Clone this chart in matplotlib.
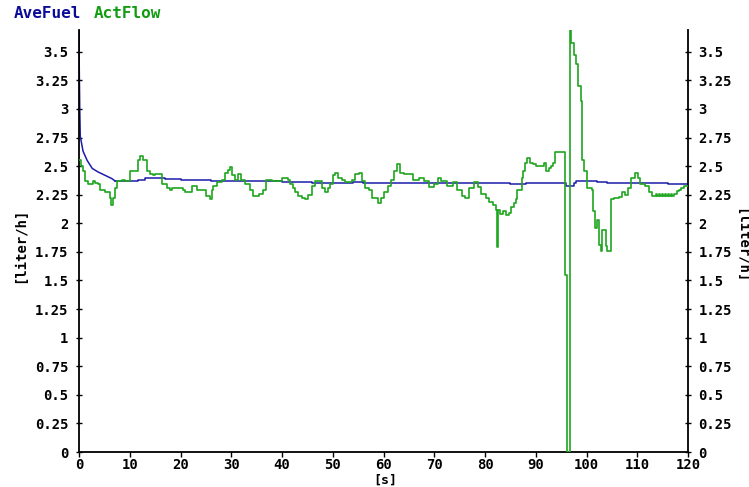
import matplotlib
matplotlib.use("Agg")
import matplotlib.pyplot as plt
import numpy as np

# ActFlow (green) step breakpoints: time [s], value [liter/h]
act_t = [0, 0.4, 0.8, 1.2, 1.8, 2.8, 3.2, 3.8, 4.1, 5.1, 6.1, 6.3, 6.7, 7.1, 7.5, 8.5, 9.0, 10.0,
         11.6, 12.0, 12.6, 13.4, 14.0, 14.6, 15.0, 16.3, 17.3, 18.0, 18.4, 20.5, 20.9, 22.2, 23.2, 25.0,
         25.8, 26.2, 26.4, 27.2, 28.1, 28.7, 29.3, 29.7, 30.1, 30.7, 31.3, 32.0, 32.7, 33.7,
         34.3, 35.4, 36.2, 36.8, 38.0, 40.0, 41.1, 41.5, 42.1, 42.5, 43.1, 43.9, 44.5, 45.1,
         45.9, 46.5, 47.8, 48.4, 49.0, 49.4, 50.0, 50.4, 51.0, 51.8, 52.4, 53.7, 54.3, 55.1,
         55.7, 56.3, 57.1, 57.7, 58.9, 59.5, 60.0, 60.8, 61.4, 62.1, 62.6, 63.2, 64.0, 65.9,
         67.0, 68.0, 68.9, 70.0, 70.8, 71.4, 72.6, 73.7, 74.4, 75.4, 76.0, 76.8, 77.8, 78.7,
         79.3, 80.1, 80.7, 81.5, 82.1, 82.4, 82.6, 83.0, 83.6, 84.2, 84.8, 85.2, 85.8, 86.2,
         86.4, 87.2, 87.4, 87.8, 88.2, 88.8, 89.4, 90.0, 91.4, 91.6, 92.0, 92.6, 93.0, 93.4,
         93.8, 95.8, 96.2, 96.8, 97.0, 97.6, 98.0, 98.4, 99.0, 99.2, 99.6, 100.0, 101.0,
         101.2, 101.6, 102.0, 102.4, 102.8, 103.0, 103.8, 104.0, 104.8, 105.4, 106.4, 107.0,
         107.6, 108.2, 108.8, 109.6, 110.2, 110.6, 111.6, 112.4, 113.0, 113.6, 113.8, 114.2,
         114.4, 114.8, 115.0, 115.4, 115.6, 116.0, 116.2, 116.6, 116.8, 117.2, 117.8, 118.2,
         118.6, 119.2, 120.0]
act_v = [2.55, 2.50, 2.46, 2.37, 2.34, 2.37, 2.35, 2.34, 2.29, 2.27, 2.22, 2.16, 2.22, 2.31, 2.37, 2.38, 2.37, 2.46,
         2.55, 2.59, 2.55, 2.46, 2.43, 2.42, 2.43, 2.34, 2.31, 2.29, 2.31, 2.29, 2.27, 2.33, 2.29, 2.24,
         2.21, 2.29, 2.33, 2.36, 2.38, 2.44, 2.47, 2.49, 2.42, 2.38, 2.43, 2.38, 2.34, 2.29,
         2.24, 2.26, 2.29, 2.38, 2.37, 2.40, 2.38, 2.34, 2.31, 2.27, 2.24, 2.22, 2.21, 2.25,
         2.33, 2.37, 2.31, 2.27, 2.31, 2.34, 2.42, 2.44, 2.40, 2.38, 2.36, 2.38, 2.43, 2.44,
         2.37, 2.31, 2.29, 2.22, 2.18, 2.22, 2.27, 2.33, 2.38, 2.46, 2.52, 2.44, 2.43, 2.38,
         2.40, 2.37, 2.32, 2.34, 2.40, 2.37, 2.33, 2.36, 2.29, 2.24, 2.22, 2.31, 2.36, 2.32,
         2.26, 2.22, 2.19, 2.16, 2.12, 1.79, 2.12, 2.08, 2.11, 2.07, 2.09, 2.14, 2.18, 2.21,
         2.29, 2.40, 2.46, 2.53, 2.57, 2.53, 2.52, 2.50, 2.50, 2.53, 2.46, 2.48, 2.50, 2.53,
         2.62, 1.55, 0.0, 3.75, 3.58, 3.47, 3.39, 3.20, 3.07, 2.55, 2.46, 2.31, 2.29,
         2.11, 1.96, 2.03, 1.81, 1.76, 1.94, 1.80, 1.76, 2.21, 2.22, 2.23, 2.27,
         2.25, 2.31, 2.40, 2.44, 2.40, 2.34, 2.33, 2.27, 2.24, 2.26, 2.24, 2.26,
         2.24, 2.26, 2.24, 2.26, 2.24, 2.26, 2.24, 2.26, 2.24, 2.26, 2.28, 2.29,
         2.31, 2.33, 2.33]

# AveFuel (blue) running average: smooth start-up decay, then stepped plateau
ave_decay_t = [0.0, 0.05, 0.15, 0.25, 0.8, 1.6, 2.6, 3.7, 5.1, 6.5, 7.1]
ave_decay_v = [3.90, 3.36, 3.00, 2.76, 2.63, 2.55, 2.48, 2.45, 2.42, 2.39, 2.37]
ave_t = [7.1, 11.6, 13.0, 16.0, 17.0, 20.0, 26.0, 40.0, 46.0, 54.0, 56.0, 85.0, 88.0, 95.0,
         96.0, 97.5, 98.0, 102.0, 104.0, 116.0, 120.0]
ave_v = [2.37, 2.38, 2.40, 2.40, 2.39, 2.38, 2.37, 2.36, 2.35, 2.36, 2.35, 2.34, 2.35, 2.35,
         2.33, 2.35, 2.37, 2.36, 2.35, 2.34, 2.34]

y_ticks = [0, 0.25, 0.5, 0.75, 1, 1.25, 1.5, 1.75, 2, 2.25, 2.5, 2.75, 3, 3.25, 3.5]
y_labels = ["0", "0.25", "0.5", "0.75", "1", "1.25", "1.5", "1.75", "2", "2.25", "2.5",
            "2.75", "3", "3.25", "3.5"]
x_ticks = [0, 10, 20, 30, 40, 50, 60, 70, 80, 90, 100, 110, 120]

W, H = 749, 487
fig = plt.figure(figsize=(W / 100, H / 100), dpi=100)
ax = fig.add_axes([79 / W, (H - 452) / H, (688 - 79) / W, (452 - 30) / H])

blue = "#1c1caa"
ax.plot(ave_decay_t, ave_decay_v, color=blue, lw=1.1, zorder=2)
ax.step(ave_t, ave_v, where="post", color=blue, lw=1.1, zorder=2)
ax.step(act_t, act_v, where="post", color="#1fa51f", lw=1.2, zorder=3)

ax.set_xlim(0, 120)
ax.set_ylim(0, 3.69)

font = dict(family="DejaVu Sans Mono", weight="bold", size=10)
ax.set_yticks(y_ticks)
ax.set_yticklabels(y_labels, **font)
ax.set_xticks(x_ticks)
ax.set_xticklabels([str(v) for v in x_ticks], **font)
ax.tick_params(axis="y", direction="inout", length=5, width=1, left=True, right=True,
               labelleft=True, labelright=True, pad=5)
ax.tick_params(axis="x", direction="out", length=3.5, width=1, pad=0.5)

ax.spines["top"].set_visible(False)
for s in ["left", "right", "bottom"]:
    ax.spines[s].set_linewidth(1.3)
    ax.spines[s].set_color("black")

fig.text(385 / W, 0.0, "[s]", ha="center", va="bottom",
         family="DejaVu Sans Mono", weight="bold", size=9.5)
fig.text(20 / W, 1 - 245 / H, "[liter/h]", ha="center", va="center", rotation=90, **font)
fig.text(741 / W, 1 - 246 / H, "[liter/h]", ha="center", va="center", rotation=270, **font)

tfont = dict(family="DejaVu Sans Mono", weight="bold", size=11.5)
fig.text(14 / W, 1 - 14 / H, "AveFuel", ha="left", va="center", color="#0b0b9a", **tfont)
fig.text(94 / W, 1 - 14 / H, "ActFlow", ha="left", va="center", color="#129c12", **tfont)

fig.savefig("out.png", dpi=100)
